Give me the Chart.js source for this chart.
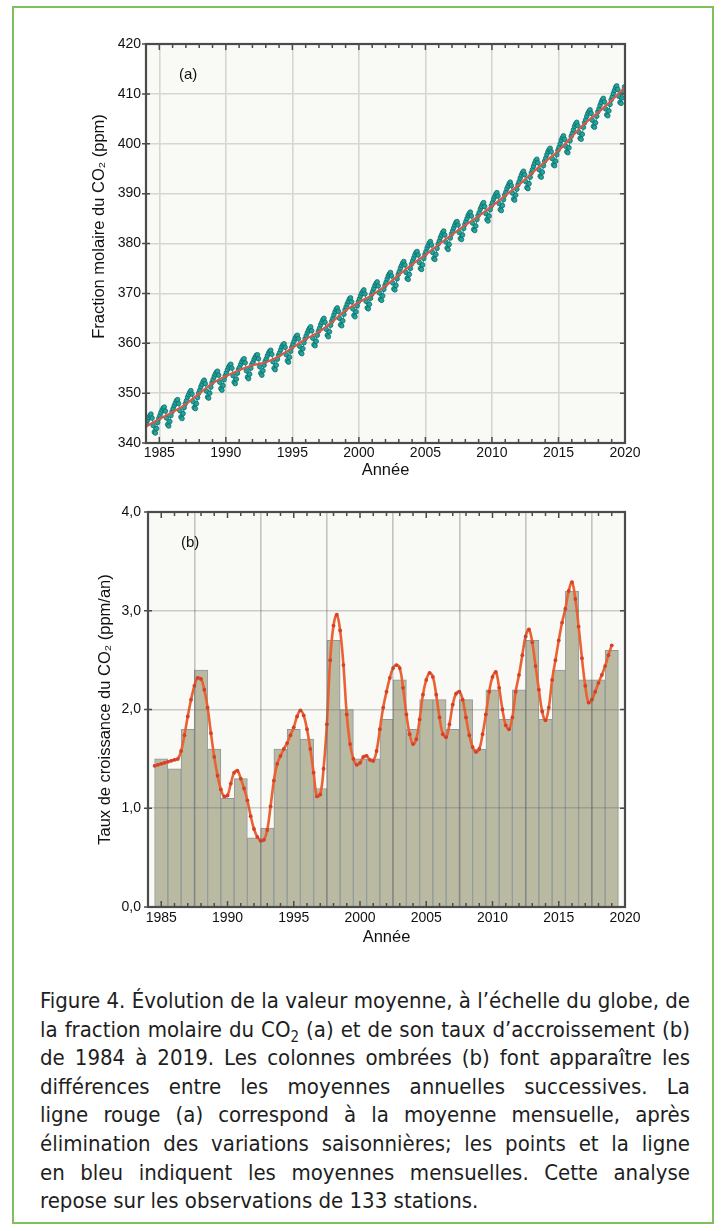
<!DOCTYPE html>
<html lang="fr">
<head>
<meta charset="utf-8">
<title>Fraction molaire du CO2</title>
<script src="https://cdn.jsdelivr.net/npm/chart.js@4.4.1/dist/chart.umd.min.js"></script>
<style>
  html, body { margin: 0; padding: 0; background: #fff; }
  body { width: 724px; height: 1231px; position: relative; overflow: hidden; }
  .box { position: absolute; left: 12px; top: 6px; width: 698px; height: 1214px; border: 2px solid #7fbf5e; }
  #chartA { position: absolute; left: 0; top: 0; }
  #chartB { position: absolute; left: 0; top: 480px; }
  .caption {
    position: absolute; left: 40px; top: 987px; width: 650px;
    font-family: "Liberation Sans Narrow", "DejaVu Sans Condensed", "Roboto", sans-serif;
    font-size: 22px; line-height: 28.6px; color: #1e1e1e;
  }
  .caption div { text-align: justify; text-align-last: justify; white-space: nowrap; }
  .caption div.last { text-align-last: left; }
  .caption sub { font-size: 0.68em; line-height: 0; vertical-align: -0.35em; }
</style>
</head>
<body>
<div class="box"></div>
<canvas id="chartA" width="724" height="480"></canvas>
<canvas id="chartB" width="724" height="467"></canvas>
<div class="caption">
  <div>Figure 4. Évolution de la valeur moyenne, à l’échelle du globe, de</div>
  <div>la fraction molaire du CO<sub>2</sub> (a) et de son taux d’accroissement (b)</div>
  <div>de 1984 à 2019. Les colonnes ombrées (b) font apparaître les</div>
  <div>différences entre les moyennes annuelles successives. La</div>
  <div>ligne rouge (a) correspond à la moyenne mensuelle, après</div>
  <div>élimination des variations saisonnières; les points et la ligne</div>
  <div>en bleu indiquent les moyennes mensuelles. Cette analyse</div>
  <div class="last">repose sur les observations de 133 stations.</div>
</div>
<script>
// (a) monthly means, Jan 1984 .. Dec 2019 (ppm)
const co2Monthly = [
  344.0, 344.6, 345.1, 345.5, 345.8, 345.0, 343.5, 342.2, 342.0, 342.9, 344.1, 344.9,
  345.5, 346.1, 346.6, 347.0, 347.2, 346.4, 345.0, 343.7, 343.4, 344.3, 345.5, 346.3,
  346.9, 347.5, 348.0, 348.5, 348.7, 347.9, 346.5, 345.2, 344.9, 345.9, 347.1, 347.9,
  348.5, 349.2, 349.7, 350.2, 350.5, 349.8, 348.3, 347.1, 346.9, 347.9, 349.1, 350.0,
  350.6, 351.3, 351.8, 352.3, 352.6, 351.9, 350.4, 349.2, 349.0, 350.0, 351.2, 352.1,
  352.7, 353.3, 353.8, 354.2, 354.4, 353.6, 352.2, 350.9, 350.6, 351.5, 352.7, 353.5,
  354.1, 354.7, 355.2, 355.6, 355.8, 355.0, 353.5, 352.2, 351.9, 352.8, 354.0, 354.8,
  355.2, 355.8, 356.3, 356.7, 356.9, 356.1, 354.5, 353.2, 352.9, 353.8, 355.0, 355.8,
  356.2, 356.8, 357.2, 357.6, 357.7, 356.9, 355.3, 354.0, 353.6, 354.5, 355.6, 356.4,
  356.9, 357.5, 358.0, 358.4, 358.6, 357.8, 356.3, 355.0, 354.7, 355.6, 356.8, 357.6,
  358.1, 358.7, 359.3, 359.7, 359.9, 359.2, 357.7, 356.5, 356.2, 357.2, 358.4, 359.2,
  359.8, 360.4, 361.0, 361.4, 361.6, 360.9, 359.4, 358.2, 357.9, 358.9, 360.1, 360.9,
  361.5, 362.1, 362.6, 363.0, 363.3, 362.5, 361.0, 359.7, 359.5, 360.4, 361.6, 362.4,
  363.0, 363.7, 364.2, 364.7, 365.0, 364.2, 362.8, 361.6, 361.3, 362.3, 363.6, 364.4,
  365.0, 365.7, 366.3, 366.8, 367.1, 366.4, 365.0, 363.7, 363.5, 364.5, 365.8, 366.7,
  367.3, 367.9, 368.4, 368.9, 369.1, 368.3, 366.9, 365.6, 365.3, 366.3, 367.5, 368.3,
  368.9, 369.5, 370.0, 370.4, 370.7, 369.9, 368.4, 367.1, 366.9, 367.8, 369.0, 369.8,
  370.4, 371.0, 371.6, 372.0, 372.3, 371.5, 370.1, 368.8, 368.6, 369.5, 370.8, 371.6,
  372.2, 372.9, 373.5, 373.9, 374.2, 373.5, 372.1, 370.9, 370.7, 371.6, 372.9, 373.8,
  374.4, 375.1, 375.6, 376.1, 376.4, 375.7, 374.2, 373.0, 372.8, 373.8, 375.0, 375.9,
  376.5, 377.1, 377.7, 378.2, 378.4, 377.7, 376.2, 375.0, 374.8, 375.7, 377.0, 377.8,
  378.4, 379.1, 379.6, 380.1, 380.4, 379.7, 378.2, 377.0, 376.8, 377.8, 379.0, 379.9,
  380.5, 381.2, 381.7, 382.2, 382.5, 381.7, 380.3, 379.1, 378.8, 379.8, 381.1, 381.9,
  382.5, 383.1, 383.7, 384.2, 384.4, 383.7, 382.2, 381.0, 380.8, 381.7, 383.0, 383.8,
  384.4, 385.0, 385.6, 386.0, 386.3, 385.5, 384.1, 382.8, 382.6, 383.5, 384.8, 385.6,
  386.2, 386.9, 387.4, 387.9, 388.2, 387.4, 386.0, 384.8, 384.5, 385.5, 386.8, 387.6,
  388.2, 388.9, 389.4, 389.9, 390.2, 389.5, 388.0, 386.8, 386.6, 387.6, 388.8, 389.7,
  390.3, 391.0, 391.5, 392.0, 392.3, 391.6, 390.1, 388.9, 388.7, 389.7, 390.9, 391.8,
  392.4, 393.1, 393.7, 394.2, 394.5, 393.8, 392.4, 391.2, 391.0, 392.0, 393.3, 394.2,
  394.8, 395.5, 396.1, 396.6, 396.9, 396.2, 394.8, 393.5, 393.3, 394.3, 395.6, 396.5,
  397.1, 397.8, 398.4, 398.8, 399.1, 398.4, 397.0, 395.8, 395.6, 396.5, 397.8, 398.7,
  399.3, 400.0, 400.7, 401.2, 401.6, 400.9, 399.5, 398.4, 398.2, 399.2, 400.6, 401.5,
  402.1, 402.8, 403.5, 404.0, 404.3, 403.6, 402.3, 401.1, 400.9, 401.9, 403.3, 404.2,
  404.8, 405.5, 406.1, 406.5, 406.8, 406.1, 404.7, 403.5, 403.3, 404.2, 405.5, 406.4,
  407.0, 407.7, 408.3, 408.8, 409.1, 408.4, 407.0, 405.8, 405.6, 406.6, 407.9, 408.8,
  409.4, 410.1, 410.7, 411.3, 411.6, 410.9, 409.5, 408.3, 408.1, 409.2, 410.5, 411.4
];

// (a) deseasonalized trend, value at 1 January of each year 1984 .. 2020
const co2Trend = [
  343.3, 344.8, 346.2, 347.8, 349.9, 352.0, 353.4, 354.6, 355.6, 356.2,
  357.4, 359.1, 360.8, 362.3, 364.3, 366.6, 368.2, 369.7, 371.5, 373.7,
  375.8, 377.7, 379.8, 381.8, 383.7, 385.5, 387.5, 389.6, 391.7, 394.1,
  396.4, 398.6, 401.4, 404.1, 406.3, 408.7, 411.3
];

// (b) annual increase between successive yearly means (ppm/an)
const barYears = [
  1985, 1986, 1987, 1988, 1989, 1990, 1991, 1992, 1993, 1994, 1995, 1996,
  1997, 1998, 1999, 2000, 2001, 2002, 2003, 2004, 2005, 2006, 2007, 2008,
  2009, 2010, 2011, 2012, 2013, 2014, 2015, 2016, 2017, 2018, 2019
];
const barGrowth = [
  1.5, 1.4, 1.8, 2.4, 1.6, 1.1, 1.3, 0.7, 0.8, 1.6, 1.8, 1.7,
  1.2, 2.7, 2.0, 1.5, 1.5, 1.9, 2.3, 1.8, 2.1, 2.1, 1.8, 2.1,
  1.6, 2.2, 1.9, 2.2, 2.7, 1.9, 2.4, 3.2, 2.3, 2.3, 2.6
];

// (b) smoothed growth rate, every quarter from 1984.5 to 2019.0
const growthStart = 1984.5;
const growthCurve = [
  1.43, 1.44,
  1.45, 1.46, 1.47, 1.48,
  1.49, 1.50, 1.58, 1.74,
  1.93, 2.10, 2.24, 2.32,
  2.31, 2.20, 2.02, 1.76,
  1.52, 1.33, 1.19, 1.12,
  1.13, 1.25, 1.36, 1.38,
  1.30, 1.20, 1.08, 0.92,
  0.79, 0.71, 0.67, 0.68,
  0.78, 1.02, 1.28, 1.45,
  1.53, 1.60, 1.66, 1.74,
  1.82, 1.93, 1.99, 1.94,
  1.80, 1.60, 1.36, 1.12,
  1.14, 1.40, 1.85, 2.50,
  2.85, 2.96, 2.80, 2.45,
  1.95, 1.65, 1.50, 1.44,
  1.46, 1.52, 1.53, 1.49,
  1.48, 1.58, 1.80, 2.02,
  2.18, 2.32, 2.42, 2.45,
  2.42, 2.22, 1.95, 1.75,
  1.65, 1.70, 1.90, 2.15,
  2.30, 2.37, 2.33, 2.15,
  1.92, 1.75, 1.72, 1.85,
  2.05, 2.16, 2.18, 2.10,
  1.92, 1.74, 1.62, 1.57,
  1.60, 1.75, 1.95, 2.18,
  2.33, 2.38, 2.22, 2.00,
  1.84, 1.80, 1.92, 2.18,
  2.35, 2.55, 2.74, 2.81,
  2.68, 2.44, 2.20, 1.98,
  1.89, 2.02, 2.30, 2.50,
  2.70, 2.88, 3.02, 3.20,
  3.29, 3.12, 2.84, 2.52,
  2.24, 2.07, 2.10, 2.18,
  2.27, 2.35, 2.44, 2.55,
  2.65
];

const yearTicks = [1985, 1990, 1995, 2000, 2005, 2010, 2015, 2020];
const co2Ticks = [340, 350, 360, 370, 380, 390, 400, 410, 420];
const growthTicks = [0, 1, 2, 3, 4];
const growthTickLabels = ['0,0', '1,0', '2,0', '3,0', '4,0'];

const startYear = 1984;
const endYear = 2020;

const monthlyPoints = co2Monthly.map((v, i) => ({ x: startYear + (i + 0.5) / 12, y: v }));
const trendPoints = co2Trend.map((v, i) => ({ x: startYear + i, y: v }));
const barPoints = barGrowth.map((v, i) => ({ x: barYears[i], y: v }));
const curvePoints = growthCurve.map((v, i) => ({ x: growthStart + i * 0.25, y: v }));

const FONT = '"Liberation Sans", Arimo, Arial, sans-serif';
const tickFont = { family: FONT, size: 14 };
const titleFont = { family: FONT, size: 16.5 };

// plot background, frame, inward ticks, rotated y title and panel letter
const framePlugin = {
  id: 'frame',
  beforeDraw(chart) {
    const { ctx, chartArea: a } = chart;
    ctx.save();
    ctx.fillStyle = '#f9f9f6';
    ctx.fillRect(a.left, a.top, a.right - a.left, a.bottom - a.top);
    ctx.restore();
  },
  afterDraw(chart, args, opts) {
    const { ctx, chartArea: a, scales: { x, y } } = chart;
    ctx.save();
    ctx.strokeStyle = '#4b4b4b';
    ctx.lineWidth = 1.5;
    ctx.beginPath();
    for (let yr = startYear; yr <= endYear; yr++) {
      const px = x.getPixelForValue(yr);
      const len = yr % 5 === 0 ? 6 : 4;
      ctx.moveTo(px, a.bottom);
      ctx.lineTo(px, a.bottom - len);
      ctx.moveTo(px, a.top);
      ctx.lineTo(px, a.top + len);
    }
    y.ticks.forEach(t => {
      const py = y.getPixelForValue(t.value);
      ctx.moveTo(a.left - 4, py);
      ctx.lineTo(a.left + 4, py);
      ctx.moveTo(a.right, py);
      ctx.lineTo(a.right - 5, py);
    });
    ctx.stroke();
    ctx.lineWidth = 2.2;
    ctx.strokeRect(a.left, a.top, a.right - a.left, a.bottom - a.top);

    ctx.fillStyle = '#111';
    ctx.font = '15px ' + FONT;
    ctx.textBaseline = 'middle';
    ctx.fillText(opts.label, a.left + 33, a.top + 31);

    ctx.translate(opts.titleX, (a.top + a.bottom) / 2 + opts.titleShift);
    ctx.rotate(-Math.PI / 2);
    ctx.textAlign = 'center';
    ctx.font = titleFont.size + 'px ' + FONT;
    ctx.fillText(opts.title, 0, 0);
    ctx.restore();
  }
};

function xScale(height, labelPad, gridOpts) {
  return {
    type: 'linear',
    min: startYear,
    max: endYear,
    afterBuildTicks: s => { s.ticks = yearTicks.map(v => ({ value: v })); },
    afterFit: s => { s.height = height; },
    grid: Object.assign({ drawTicks: false }, gridOpts),
    border: { display: false },
    ticks: { font: tickFont, color: '#111', padding: labelPad, maxRotation: 0, callback: v => String(v) },
    title: { display: true, text: 'Année', font: titleFont, color: '#111', padding: { top: 0, bottom: 0 } }
  };
}

new Chart(document.getElementById('chartA'), {
  type: 'line',
  data: {
    datasets: [
      {
        label: 'Moyenne mensuelle désaisonnalisée',
        data: trendPoints,
        borderColor: '#d9584a',
        borderWidth: 2.2,
        pointRadius: 0,
        cubicInterpolationMode: 'monotone',
        order: 0
      },
      {
        label: 'Moyenne mensuelle',
        data: monthlyPoints,
        borderColor: '#1c9993',
        borderWidth: 1,
        pointRadius: 2.3,
        pointBackgroundColor: '#22a39c',
        pointBorderColor: '#0e6d69',
        pointBorderWidth: 0.8,
        order: 1
      }
    ]
  },
  options: {
    responsive: false,
    animation: false,
    layout: { padding: { left: 90, right: 99, top: 44, bottom: 0 } },
    plugins: {
      legend: { display: false },
      tooltip: { enabled: false },
      frame: { label: '(a)', title: 'Fraction molaire du CO₂ (ppm)', titleX: 99, titleShift: -17 }
    },
    scales: {
      x: xScale(37, 2, { color: '#d6d6d3', lineWidth: 1.6 }),
      y: {
        min: 340,
        max: 420,
        afterBuildTicks: s => { s.ticks = co2Ticks.map(v => ({ value: v })); },
        afterFit: s => { s.width = 56; },
        grid: { color: '#d6d6d3', lineWidth: 1.6, drawTicks: false },
        border: { display: false },
        ticks: { font: tickFont, color: '#111', padding: 5, callback: v => String(v) }
      }
    }
  },
  plugins: [framePlugin]
});

new Chart(document.getElementById('chartB'), {
  type: 'bar',
  data: {
    datasets: [
      {
        type: 'line',
        label: 'Taux de croissance',
        data: curvePoints,
        borderColor: '#ea6232',
        borderWidth: 2.6,
        pointRadius: 1.9,
        pointBackgroundColor: '#d6402a',
        pointBorderWidth: 0,
        tension: 0.4,
        order: 0
      },
      {
        type: 'bar',
        label: 'Différence annuelle',
        data: barPoints,
        backgroundColor: '#bab9a2',
        borderColor: '#8e989c',
        borderWidth: 1,
        barPercentage: 1,
        categoryPercentage: 1,
        order: 1
      }
    ]
  },
  options: {
    responsive: false,
    animation: false,
    layout: { padding: { left: 92, right: 99, top: 32, bottom: 0 } },
    plugins: {
      legend: { display: false },
      tooltip: { enabled: false },
      frame: { label: '(b)', title: 'Taux de croissance du CO₂ (ppm/an)', titleX: 105, titleShift: 0 }
    },
    scales: {
      x: Object.assign(xScale(40, 3, { color: 'rgba(95,95,95,0.35)', lineWidth: 1.6, z: 1 }), { offset: false }),
      y: {
        min: 0,
        max: 4,
        afterBuildTicks: s => { s.ticks = growthTicks.map(v => ({ value: v })); },
        afterFit: s => { s.width = 56; },
        grid: { color: 'rgba(95,95,95,0.3)', lineWidth: 1.6, drawTicks: false, z: 1 },
        border: { display: false },
        ticks: { font: tickFont, color: '#111', padding: 7, callback: (v, i) => growthTickLabels[i] }
      }
    }
  },
  plugins: [framePlugin]
});
</script>
</body>
</html>
